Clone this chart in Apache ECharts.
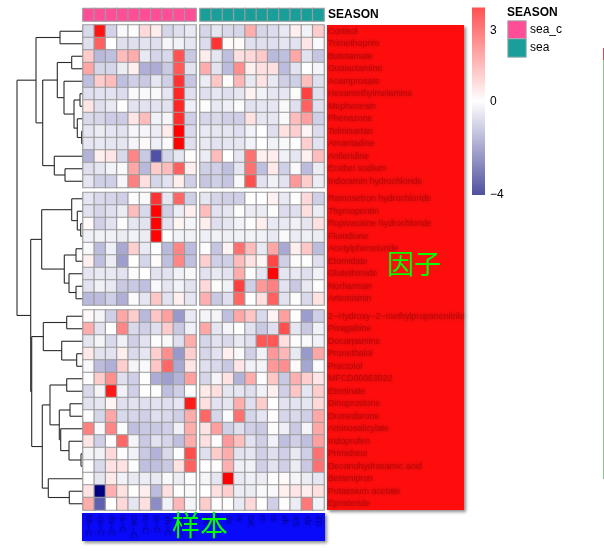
<!DOCTYPE html>
<html>
<head>
<meta charset="utf-8">
<style>html,body{margin:0;padding:0;background:#fff}#chart{width:604px;height:551px}</style>
<script src="https://cdn.jsdelivr.net/npm/echarts@6/dist/echarts.min.js"></script>
</head>
<body>
<div id="chart"></div>
<script>
// samples, split by season
const colsSeaC = ['bh−C', 'ca−C', 'ds−C', 'is−C', 'DK−C', 'rc−C', 'ts−C', 'xh−C', 'XS−C', 'ZD−C'];
const colsSea = ['bh', 'ca', 'ds', 'is', 'DK', 'rc', 'ts', 'xh', 'XS', 'xlz', 'ZD'];

// compounds, one list per row block
const rowsTop = ['Cortisol', 'Trimethoprim', 'Butetamate', 'Guaiactamine', 'Acamprosate', 'Hexamethylmelamine', 'Mephenesin', 'Phenazone', 'Telmisartan', 'Amantadine', 'Anileridine', 'Ecabet sodium', 'Indoramin hydrochloride'];
const rowsMid = ['Ramosetron hydrochloride', 'Thymopentin', 'Ropivacaine hydrochloride', 'Fluindione', 'Acetylpheneturide', 'Etomidate', 'Glutethimide', 'Norharman', 'Artemisinin'];
const rowsBot = ['2−Hydroxy−2−methylpropanenitrile', 'Pivagabine', 'Docarpamine', 'Pronethalol', 'Practolol', 'MFCD00063022', 'Etretinate', 'Dinoprostone', 'Dronedarone', 'Aminosalicylate', 'Indoprofen', 'Primidone', 'Decanohydroxamic acid', 'Betamipron', 'Potassium acetate', 'Epristeride'];

// values (10 sea_c + 11 sea per row)
const valuesTop = [
  [-.6, 3.7, -.7, -.1, -.05, .6, .3, -.65, -.5, -.35, -.65, -.4, -.6, -.65, 1.3, -.65, -.55, -.35, .25, -.2, .8],
  [-.5, 2.5, 0, -.5, -.5, -.45, -.5, -.15, -.2, -.4, -.55, 3.2, .08, .08, -.5, -.5, -.5, -.4, -.45, .4, -.1],
  [.8, -1.1, -1, 1.05, 1.3, -.35, -.65, -.6, 2.7, -.85, .3, -.4, -1, .5, .6, .85, -1.1, -1, 1.4, -.45, -.9],
  [1.4, -.65, -.65, -.3, .25, -1.25, -1.3, -.85, 2.6, -.45, 1.3, -.45, -1.05, 1.75, .25, .5, .5, -1.05, -.45, 0, -.18],
  [-1, .8, 1.05, -1, -.75, -.85, -.4, -.75, 3.2, -.9, -.3, .9, .05, 1.15, -.35, .45, -.35, -.75, -.75, 1, -.5],
  [-.5, -.45, -.45, -.55, -.1, -.1, -.1, -.4, 3.4, -.5, -.5, -.4, -.5, -.4, .2, -.2, -.4, -.4, -.05, 3, -.5],
  [.4, -.5, -.35, 0, -.45, -.45, -.45, -.45, 3.4, -.25, -.05, -.35, -.25, -.07, -.45, -.4, -.4, -.1, -.5, 2.5, -.5],
  [-.6, -.65, -.8, -.8, .4, 1.05, -.22, -.15, 3.3, -.75, -.65, -.6, -.75, -.75, .45, -.4, -.4, -.1, 1.05, 1.5, -.75],
  [-.4, -.3, -.4, -.45, -.15, -.15, -.3, .32, 4, -.6, -.35, -.4, -.4, -.5, -.2, 0, -.5, .45, .75, .17, -.55],
  [-.4, -.35, -.4, -.4, -.18, .08, -.25, -.07, 3.95, -.5, -.35, -.45, -.4, -.4, -.2, 0, -.22, -.1, -.02, .75, -.45],
  [-1.2, .25, .4, -.6, 1.9, -.85, -2.75, -.65, -.4, .05, -.3, 1.05, 0, -.4, 2.25, .25, .3, -.22, -.4, .25, 1.05],
  [-.5, -.4, -.2, -.1, 1.4, -1.1, .8, 1.05, 2.5, .27, -.75, -.75, -1, -.4, 2.25, -1, .35, -.75, -.1, -1.05, -.3],
  [-.4, -.75, -.75, -.15, 2, .5, -.65, -.45, .25, -.75, -.9, -.75, -.9, -.1, 2.75, -.45, -.22, -.45, 1.6, .8, -.3]
];
const valuesMid = [
  [-.4, -.6, -.65, -.75, -.05, -.1, 3.2, -.4, 2.4, -.75, -.4, -.65, -.75, -.75, 0, 0, .2, -.35, -.03, .6, -.75],
  [-.45, -.65, -.5, -.3, 1.05, -.6, 3.95, -.75, -.3, .25, 1.05, -.45, -.4, -.05, -.3, -.3, -.05, -.55, -.5, .5, -.3],
  [.1, -.75, -.45, -.03, -.4, -.45, 3.95, -.45, .17, -.18, .27, -.5, -.4, -.2, -.05, .25, -.35, -.35, -.22, -.4, .5],
  [-.22, -.22, -.22, -.3, -.2, -.3, 3.95, -.03, -.2, -.22, -.25, -.22, -.25, -.22, -.2, -.22, -.35, -.08, -.3, -.25, -.3],
  [-.1, -1.05, -.25, -1.35, .75, -.35, -.03, -1.1, 1.9, -1.05, -.05, -.9, .2, 2.25, 1.05, -.35, 1.4, -1.35, .27, .9, -1.05],
  [.25, -1, -.3, -1.5, 0, -.65, .06, -1, 1.9, -1, .75, -.75, -.75, 1.05, .45, .17, 2.9, -.75, -.05, -.03, -.5],
  [-.4, -.35, -.35, -.45, -.05, 0, -.45, -.45, -.22, -.1, -.45, -.35, -.45, 1.3, -.03, -.4, 3.9, -.4, -.35, -.5, -.22],
  [-.45, -.22, -.35, -.85, -.85, -1, -.1, -.4, -.2, -.45, .6, -.05, -.2, 3, -.75, 1.6, 2, -.45, -.85, -.35, -.05],
  [-1.1, -1.05, -.75, -1.25, -.07, -.4, .9, -.45, .25, -.4, 1.25, -.85, -.5, 2.4, 0, .5, 2.5, -.45, -.05, -.6, .45]
];
const valuesBot = [
  [.1, -.18, -.75, 1.4, .8, -1.1, .9, 1.5, -1.6, -.35, -.18, -.18, -1, 1.4, .9, -.6, .17, 1.5, 0, -1.55, -.75],
  [1.3, -.45, 0, 1.9, -.6, -.75, -.5, .8, -.85, -.25, 1.4, -.4, -.18, 0, -.45, -.85, -.5, 2.75, -.4, -.85, -.22],
  [-.4, -.18, -.6, -.22, -.75, -.45, -.03, -.1, -.5, 1.3, -.65, -.45, -.6, -.35, -.5, 2.65, 2.65, .5, -.05, -.1, -.22],
  [.35, -.45, -.45, .27, -.6, -.4, .75, 1.75, -1.6, .75, -.65, -.45, .25, -.1, -.75, -.22, 1.6, 1.15, -.35, -1.6, 1.4],
  [-.1, -1.05, -1.25, .75, -.18, -.1, .9, 2.4, -1.35, .4, -.5, -.6, -.85, .4, -.22, -.18, 1.6, 1.75, .1, -1.4, -.07],
  [-.03, .8, 1.75, -.5, -.75, -.03, -1.3, -1.5, -1.2, 1.5, -.65, -.18, .45, -1.2, 1.3, -.05, .9, -.85, 1.25, .75, .4],
  [-.6, -.18, 3.6, -.22, -.75, 0, .05, -1, -.75, -.03, .35, .5, -.4, -.4, -.5, -.22, .25, -.75, .9, -.4, .8],
  [-.45, -.4, .17, -.5, -.45, -.5, -.45, -.5, -.4, 3.6, .5, -.45, -.4, 1.3, -.5, .8, -.03, -.45, -.45, -.4, .6],
  [-.03, -.65, 1.4, -.6, -.65, -.75, -.5, -.6, -.75, 1.3, 2.4, -.65, -.07, 2.25, -.65, -.4, .03, -.65, -.6, -.75, 1.4],
  [2, -.1, 1.9, -.05, -1, -.85, -.85, -.75, -.22, 1.3, .45, 1.5, -.75, -.5, -.75, -.85, -.05, -.25, -.85, -.18, 1.4],
  [.4, -.75, .05, 2.4, -.18, -.85, -.45, -.65, -1, 1.3, .5, 0, 1.6, 1, -.45, -.75, -.22, -1, -.75, -1, 1.5],
  [-.18, -.22, .6, -.03, -.22, -.85, -1.2, -.6, -.03, 2.8, -.5, .8, 1.3, -.45, -.4, -.75, -.5, -.75, -.35, -.75, 2.25],
  [-.03, -.6, .45, .45, -.05, -1, -1, -.85, .45, 2.5, .03, .05, 1.25, -.25, -.22, -.75, -.45, -.75, -.3, -.85, 2.25],
  [-.03, -.4, .35, -.2, -.35, -.3, -.35, -.1, -.3, -.07, -.18, -.4, 4, -.35, -.25, -.3, -.03, .1, -.18, -.3, -.4],
  [.45, -4, 1.25, .45, .05, .27, -1.05, .5, -.03, -.1, 0, .5, .75, -.3, -.3, -.1, -.1, .25, .4, .3, .5],
  [1.3, -2.5, 0, .6, -.4, .5, -1.8, -.22, 1.15, -.18, .8, -.03, .05, -.35, .6, 0, -.75, -.03, -.3, 2.1, -.22]
];

// row dendrogram: [height, child, child], a number is a row index
const treeTop = [47, [23, 0, 1], [40.3, [25.7, [11.3, 2, 3], [19, 4, [9, [3, 5, 6], [5.7, 7, [1.3, 8, 9]]]]], [28.7, 10, [18, 11, 12]]]];
const treeMid = [41.3, [11.3, 13, [5.7, 14, [2.3, 15, 16]]], [18.7, [7, 17, 18], [14, 19, [7, 20, 21]]]];
const treeBot = [51.3, [39.7, [16.3, 22, 23], [21.3, 24, [6.3, 25, 26]]], [40.7, [33, [16.3, 27, 28], [23.7, [13, 29, 30], [22.3, 31, [14, 32, [2, 33, 34]]]]], [34.7, 35, [13.7, 36, 37]]]];
const rootHeights = [66, 52.3];

const colorTicks = [-4, 0, 3];
const colorMin = -4;
const colorMax = 4;
const seasonNames = ['sea_c', 'sea'];
const seasonColors = ['#FF4D98', '#1A9E9A'];

const chart = echarts.init(document.getElementById('chart'));

const grids = [], xAxes = [], yAxes = [], series = [], heatIdx = [];
const borderGrey = '#9c9c9c';

function addGrid(box, cols, rows, xLabel, yLabel) {
  grids.push(box);
  const i = grids.length - 1;
  xAxes.push({ gridIndex: i, type: 'category', data: cols, position: 'bottom',
    axisLine: { show: false }, axisTick: { show: false }, splitLine: { show: false },
    axisLabel: xLabel || { show: false } });
  yAxes.push({ gridIndex: i, type: 'category', data: rows, inverse: true, position: 'right', z: 5,
    axisLine: { show: false }, axisTick: { show: false }, splitLine: { show: false },
    axisLabel: yLabel || { show: false } });
  return i;
}

const rowLabel = {
  show: true, interval: 0, margin: 4, fontFamily: 'Liberation Sans', fontSize: 8.8,
  color: 'rgba(140,0,0,0.5)', textShadowColor: 'rgba(60,0,0,0.9)', textShadowBlur: 4
};
const colLabel = {
  show: true, interval: 0, rotate: -90, margin: 5, fontFamily: 'Liberation Sans', fontSize: 8.8,
  color: 'rgba(0,0,130,0.5)', textShadowColor: 'rgba(0,0,60,0.9)', textShadowBlur: 3
};

function addPanel(left, width, top, height, cols, rows, values, from, isRight, isBottom) {
  const i = addGrid({ left, top, width, height }, cols, rows,
    isBottom ? colLabel : null, isRight ? rowLabel : null);
  const cells = [];
  values.forEach((row, r) => {
    cols.forEach((c, k) => cells.push([k, r, row[from + k]]));
  });
  heatIdx.push(series.length);
  series.push({ type: 'heatmap', xAxisIndex: i, yAxisIndex: i, data: cells, silent: true, z: 3,
    itemStyle: { borderColor: borderGrey, borderWidth: 1.2 } });
}

const leftBox = [83, 113], rightBox = [200, 124];
const bands = [[25, 162.5, rowsTop, valuesTop], [192.5, 112.5, rowsMid, valuesMid], [310, 200, rowsBot, valuesBot]];
bands.forEach((b, n) => {
  addPanel(leftBox[0], leftBox[1], b[0], b[1], colsSeaC, b[2], b[3], 0, false, n === 2);
  addPanel(rightBox[0], rightBox[1], b[0], b[1], colsSea, b[2], b[3], colsSeaC.length, true, n === 2);
});

// annotation strip on top
function addStrip(box, cols, color, yLabel) {
  const i = addGrid({ left: box[0], width: box[1], top: 8.5, height: 12.5 }, cols, ['SEASON'], null, yLabel);
  series.push({ type: 'heatmap', xAxisIndex: i, yAxisIndex: i, silent: true, z: 3,
    data: cols.map((c, k) => [k, 0, 1]),
    itemStyle: { color, borderColor: borderGrey, borderWidth: 1.2 } });
}
addStrip(leftBox, colsSeaC, seasonColors[0]);
addStrip(rightBox, colsSea, seasonColors[1], {
  show: true, margin: 4, fontFamily: 'Liberation Sans', fontSize: 12, fontWeight: 'bold', color: '#000'
});

// season legend
const legendGrid = addGrid({ left: 508, top: 21, width: 18, height: 36 }, ['SEASON'], seasonNames, null, {
  show: true, margin: 4, fontFamily: 'Liberation Sans', fontSize: 12, color: '#000'
});
series.push({ type: 'heatmap', xAxisIndex: legendGrid, yAxisIndex: legendGrid, silent: true, z: 3,
  data: seasonNames.map((n, k) => ({ value: [0, k, 1], itemStyle: { color: seasonColors[k] } })),
  itemStyle: { borderColor: '#aab4b4', borderWidth: 1 } });

// colour key, two stacked bars on a value axis
const keyGrid = grids.length;
grids.push({ left: 472, top: 7.5, width: 13, height: 187.5 });
xAxes.push({ gridIndex: keyGrid, type: 'category', data: ['key'], axisLine: { show: false }, axisTick: { show: false }, axisLabel: { show: false } });
yAxes.push({ gridIndex: keyGrid, type: 'value', min: colorMin, max: colorMax, position: 'right',
  axisLine: { show: false }, axisTick: { show: false }, splitLine: { show: false },
  axisLabel: { customValues: colorTicks, margin: 5, fontFamily: 'Liberation Sans', fontSize: 12, color: '#000',
    formatter: v => String(v).replace('-', '−') } });
series.push({ type: 'bar', xAxisIndex: keyGrid, yAxisIndex: keyGrid, stack: 'key', barWidth: '100%', silent: true,
  data: [colorMax],
  itemStyle: { color: new echarts.graphic.LinearGradient(0, 0, 0, 1, [{ offset: 0, color: '#FF5050' }, { offset: 1, color: '#FFFFFF' }]) } });
series.push({ type: 'bar', xAxisIndex: keyGrid, yAxisIndex: keyGrid, stack: 'key', barWidth: '100%', silent: true,
  data: [colorMin],
  itemStyle: { color: new echarts.graphic.LinearGradient(0, 0, 0, 1, [{ offset: 0, color: '#FFFFFF' }, { offset: 1, color: '#5050A0' }]) } });

// dendrogram, flattened into [h0, y0, h1, y1] segments
const blockGap = 0.4;
const rowPos = r => r + 0.5 + (r >= rowsTop.length ? blockGap : 0) + (r >= rowsTop.length + rowsMid.length ? blockGap : 0);
const segments = [];
function walk(node) {
  if (typeof node === 'number') return { h: 0, y: rowPos(node) };
  const a = walk(node[1]), b = walk(node[2]), h = node[0];
  segments.push([a.h, a.y, h, a.y], [b.h, b.y, h, b.y], [h, a.y, h, b.y]);
  return { h, y: (a.y + b.y) / 2 };
}
const midBot = [rootHeights[1], treeMid, treeBot];
walk([rootHeights[0], treeTop, midBot]);

const treeGrid = grids.length;
grids.push({ left: 17, top: 25, width: 66, height: 485 });
xAxes.push({ gridIndex: treeGrid, type: 'value', inverse: true, min: 0, max: rootHeights[0], show: false });
yAxes.push({ gridIndex: treeGrid, type: 'value', inverse: true, min: 0,
  max: rowsTop.length + rowsMid.length + rowsBot.length + 2 * blockGap, show: false });
series.push({
  type: 'custom', xAxisIndex: treeGrid, yAxisIndex: treeGrid, data: segments, silent: true, clip: false,
  renderItem: (params, api) => {
    const p0 = api.coord([api.value(0), api.value(1)]);
    const p1 = api.coord([api.value(2), api.value(3)]);
    return { type: 'line', shape: { x1: p0[0], y1: p0[1], x2: p1[0], y2: p1[1] },
      style: { stroke: '#2a2a2a', lineWidth: 1.1 } };
  }
});

const shadow = { shadowColor: 'rgba(0,0,0,0.45)', shadowBlur: 3, shadowOffsetX: 2, shadowOffsetY: 2 };

chart.setOption({
  animation: false,
  backgroundColor: '#fff',
  title: { text: 'SEASON', left: 507, top: 7, padding: 0,
    textStyle: { fontFamily: 'Liberation Sans', fontSize: 12, fontWeight: 'bold', color: '#000' } },
  grid: grids, xAxis: xAxes, yAxis: yAxes, series,
  visualMap: { show: false, type: 'continuous', seriesIndex: heatIdx, min: colorMin, max: colorMax,
    inRange: { color: ['#000080', '#FFFFFF', '#FF0000'] } },
  graphic: [
    { type: 'rect', z: -10, left: 327, top: 25, shape: { width: 137, height: 485 }, style: { fill: '#FF0D0D', ...shadow } },
    { type: 'rect', z: -10, left: 82, top: 513, shape: { width: 243, height: 28 }, style: { fill: '#0A0AFA', ...shadow } },
    { type: 'rect', z: -10, left: 603, top: 48, shape: { width: 1, height: 12 }, style: { fill: '#E8404A' } },
    { type: 'rect', z: -10, left: 603, top: 60, shape: { width: 1, height: 419 }, style: { fill: '#86C98A' } },
    { type: 'text', z: 20, left: 387, top: 250, style: { text: '因子', fill: '#00FF00', fontFamily: 'Noto Sans CJK SC', fontSize: 27 } },
    { type: 'text', z: 20, left: 172, top: 511, style: { text: '样本', fill: '#00FF00', fontFamily: 'Noto Sans CJK SC', fontSize: 28 } }
  ]
});
</script>
</body>
</html>
